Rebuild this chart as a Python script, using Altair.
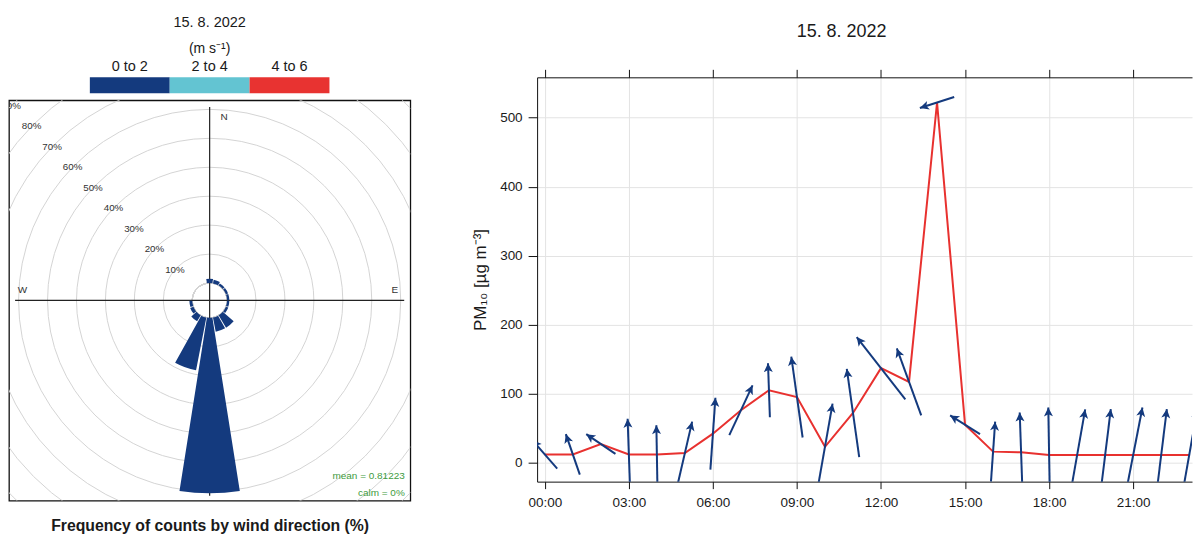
import altair as alt
import pandas as pd

# ---------------- data ----------------
date_label = "15. 8. 2022"

# right panel: hourly PM10 and wind
hours = list(range(24))
pm10 = [12, 12, 27, 12, 12, 14, 42, 76, 105, 95, 23, 72,
        137, 117, 522, 55, 16, 15, 11, 11, 11, 11, 11, 11]
ws = [0.44, 0.50, 0.41, 0.83, 0.68, 0.75, 0.84, 0.64, 0.63, 0.95, 1.02, 1.04,
      0.92, 0.83, 0.42, 0.41, 0.70, 0.93, 1.11, 1.08, 1.08, 1.13, 1.08, 1.10]
wd = [139, 161, 124, 178, 179, 193, 184, 205, 178, 172, 190, 172,
      142, 160, 72, 122, 184, 178, 179, 190, 187, 191, 187, 190]
hour_ticks = [0, 3, 6, 9, 12, 15, 18, 21]
pm_ticks = [0, 100, 200, 300, 400, 500]

# left panel: wind rose (frequency % per 20 degree sector)
rose_dir = [0, 20, 40, 60, 80, 100, 120, 140, 160, 180, 200, 220, 240, 260]
rose_pct = [1.5, 1.3, 0.8, 0.8, 0.8, 0.8, 0.9, 5.0, 5.0, 60.6, 18.6, 2.4, 1.2, 1.0]
ring_pct = [0, 10, 20, 30, 40, 50, 60, 70, 80, 90]
compass_lab = ["N", "E", "S", "W"]
speed_bins = ["0 to 2", "2 to 4", "4 to 6"]
speed_lo = [0, 2, 4]
speed_hi = [2, 4, 6]
mean_ws = 0.81223
calm_pct = 0

# ---------------- styles / layout ----------------
speed_colors = ["#143A7E", "#63C4D2", "#E83331"]
BLUE = "#143A7E"
RED = "#E8312F"
TXT = "#1a1a1a"
GRID = "#E3E3E3"
FONT = "Liberation Sans"

ROSE_W, ROSE_H = 402, 401
PX_PER_PCT = 2.9
HOLE = 17.4
rx = ROSE_W / 2 / PX_PER_PCT
ry = ROSE_H / 2 / PX_PER_PCT
compass_x = [5.0, 64.0, 5.0, -64.7]
compass_y = [63.3, 3.6, -63.3, 3.6]

RW, RH = 656, 405
X_DOM = [-0.275, 23.1]
Y_DOM = [-27.5, 558.5]
ARROW_PX = 86  # arrow length in px per m/s

# ---------------- wind rose ----------------
xs = alt.Scale(domain=[-rx, rx], nice=False, zero=False)
ys = alt.Scale(domain=[-ry, ry], nice=False, zero=False)
theta_scale = alt.Scale(type="linear", domain=[0, 360], range=[0, 6.283185307179586])
radius_scale = alt.Scale(type="linear", domain=[0, 90],
                         range=[HOLE, HOLE + 90 * PX_PER_PCT], zero=False)

rings = alt.Chart(pd.DataFrame({"pct": ring_pct})).mark_arc(
    filled=False, stroke="#D4D4D4", strokeWidth=1, clip=True,
    theta=0, theta2=6.2832
).encode(radius=alt.Radius("pct:Q", scale=radius_scale, stack=None))

ring_lab_df = pd.DataFrame({"pct": ring_pct[1:],
                            "lab": [f"{p}%" for p in ring_pct[1:]]})
ring_labels = alt.Chart(ring_lab_df).mark_text(
    fontSize=9.8, color="#333333", clip=True, dx=-2, dy=2
).encode(
    theta=alt.Theta(datum=315, scale=theta_scale),
    radius=alt.Radius("pct:Q", scale=radius_scale, stack=None),
    text="lab:N",
)

comp_df = pd.DataFrame({"lab": compass_lab, "cx": compass_x, "cy": compass_y})
compass = alt.Chart(comp_df).mark_text(fontSize=10, color="#333333").encode(
    x=alt.X("cx:Q", scale=xs, axis=None),
    y=alt.Y("cy:Q", scale=ys, axis=None),
    text="lab:N",
)

hline = alt.Chart(pd.DataFrame({"a": [0]})).mark_rule(color="#222222", strokeWidth=1.2).encode(
    x=alt.X(datum=-67.2, scale=xs,
            axis=alt.Axis(title="Frequency of counts by wind direction (%)",
                          labels=False, ticks=False, domain=False, grid=False,
                          titleFontSize=15.8, titleFontWeight="bold", titleColor=TXT,
                          titlePadding=18)),
    x2=alt.X2(datum=67.2),
    y=alt.Y(datum=0, scale=ys, axis=None),
)
vline = alt.Chart(pd.DataFrame({"a": [0]})).mark_rule(color="#222222", strokeWidth=1.2).encode(
    x=alt.X(datum=0, scale=xs, axis=None),
    y=alt.Y(datum=66.8, scale=ys, axis=None),
    y2=alt.Y2(datum=-67.5),
)

rose_df = pd.DataFrame({"wd": rose_dir, "pct": rose_pct})
bars = alt.Chart(rose_df).transform_calculate(
    t0="datum.wd - 9", t1="datum.wd + 9", base="0"
).mark_arc(color=BLUE).encode(
    theta=alt.Theta("t0:Q", scale=theta_scale, stack=None),
    theta2="t1:Q",
    radius=alt.Radius("pct:Q", scale=radius_scale, stack=None),
    radius2="base:Q",
)

stats_df = pd.DataFrame({"lab": [f"mean = {mean_ws}", f"calm = {calm_pct}%"],
                         "sx": [67.4, 67.4], "sy": [-60.8, -66.4]})
stats = alt.Chart(stats_df).mark_text(fontSize=10, color="#3E9B3E", align="right").encode(
    x=alt.X("sx:Q", scale=xs, axis=None),
    y=alt.Y("sy:Q", scale=ys, axis=None),
    text="lab:N",
)

rose = alt.layer(rings, ring_labels, compass, hline, vline, bars, stats).resolve_axis(
    x="independent", y="independent"
).properties(
    width=ROSE_W, height=ROSE_H,
    view=alt.ViewBackground(stroke="#111111", strokeWidth=1.3),
)

# ---------------- speed legend ----------------
spd_df = pd.DataFrame({"bin": speed_bins, "lo": speed_lo, "hi": speed_hi})
leg_x = alt.Scale(domain=[-2.025, 8.025], nice=False, zero=False)
legend_rect = alt.Chart(spd_df).mark_rect().encode(
    x=alt.X("lo:Q", scale=leg_x, axis=None),
    x2="hi:Q",
    color=alt.Color("bin:N", scale=alt.Scale(domain=speed_bins, range=speed_colors),
                    legend=None),
)
legend_text = alt.Chart(spd_df).transform_calculate(
    mid="(datum.lo + datum.hi) / 2"
).mark_text(fontSize=14.5, baseline="middle", color=TXT).encode(
    x=alt.X("mid:Q", scale=leg_x, axis=None),
    y=alt.value(-10),
    text="bin:N",
)
legend = alt.layer(legend_rect, legend_text).properties(
    width=ROSE_W, height=16,
    view=alt.ViewBackground(strokeWidth=0),
    title=alt.TitleParams(date_label, subtitle="(m s⁻¹)", fontSize=14.5,
                          subtitleFontSize=14, fontWeight="normal", anchor="middle",
                          color=TXT, subtitleColor=TXT, offset=2, subtitlePadding=12),
)

left = alt.vconcat(legend, rose, spacing=6)

# ---------------- PM10 time series ----------------
xsr = alt.Scale(domain=X_DOM, nice=False, zero=False)
ysr = alt.Scale(domain=Y_DOM, nice=False, zero=False)
px_h = RW / (X_DOM[1] - X_DOM[0])
px_u = RH / (Y_DOM[1] - Y_DOM[0])

ts_df = pd.DataFrame({"hour": hours, "pm": pm10, "ws": ws, "wd": wd})
base = alt.Chart(ts_df)

line = base.mark_line(color=RED, strokeWidth=2).encode(
    x=alt.X("hour:Q", scale=xsr,
            axis=alt.Axis(values=hour_ticks, orient="bottom", title=None,
                          labelExpr="(datum.value < 10 ? '0' : '') + datum.value + ':00'",
                          grid=True, gridColor=GRID, tickSize=7, labelPadding=7,
                          labelFontSize=13.5, labelColor=TXT, domainColor="#111111",
                          tickColor="#111111", labelFlush=False)),
    y=alt.Y("pm:Q", scale=ysr,
            axis=alt.Axis(values=pm_ticks, title="PM₁₀ [µg m⁻³]", grid=True,
                          gridColor=GRID, tickSize=9, labelPadding=6,
                          labelFontSize=13.5, labelColor=TXT, domainColor="#111111",
                          tickColor="#111111", titleFontSize=17,
                          titleFontWeight="normal", titleColor=TXT, titlePadding=10)),
)

arrows = base.transform_calculate(
    b="(datum.wd + 180) * PI / 180",
    h=f"datum.ws * {ARROW_PX} / 2",
).transform_calculate(
    x0=f"datum.hour - datum.h * sin(datum.b) / {px_h}",
    x1=f"datum.hour + datum.h * sin(datum.b) / {px_h}",
    y0=f"datum.pm - datum.h * cos(datum.b) / {px_u}",
    y1=f"datum.pm + datum.h * cos(datum.b) / {px_u}",
    ang="(datum.wd + 180) % 360",
)
shafts = arrows.mark_rule(color=BLUE, strokeWidth=2, clip=True).encode(
    x=alt.X("x0:Q", scale=xsr, axis=None),
    x2="x1:Q",
    y=alt.Y("y0:Q", scale=ysr, axis=None),
    y2="y1:Q",
)
heads = arrows.mark_point(shape="M0,0 L-0.5,1 L0,0.75 L0.5,1 Z", filled=True,
                          size=324, color=BLUE, opacity=1, clip=True).encode(
    x=alt.X("x1:Q", scale=xsr, axis=None),
    y=alt.Y("y1:Q", scale=ysr, axis=None),
    angle=alt.Angle("ang:Q", scale=None),
)
top_axis = base.mark_point(opacity=0).encode(
    x=alt.X("hour:Q", scale=xsr,
            axis=alt.Axis(orient="top", values=hour_ticks, labels=False, grid=False,
                          tickSize=8, title=None, domainColor="#111111",
                          tickColor="#111111")),
    y=alt.Y("pm:Q", scale=ysr, axis=None),
)

right = alt.layer(line, shafts, heads, top_axis).resolve_axis(
    x="independent", y="independent"
).properties(
    width=RW, height=RH,
    view=alt.ViewBackground(strokeWidth=0),
    title=alt.TitleParams(date_label, fontSize=18, fontWeight="normal", anchor="middle",
                          color=TXT, offset=28, dx=-23),
)

chart = alt.hconcat(left, right, spacing=60).properties(
    padding={"left": 8, "top": 14, "right": 0, "bottom": 0}
).configure(font=FONT)

chart.save("out.html", embed_options={"renderer": "svg", "actions": False})
